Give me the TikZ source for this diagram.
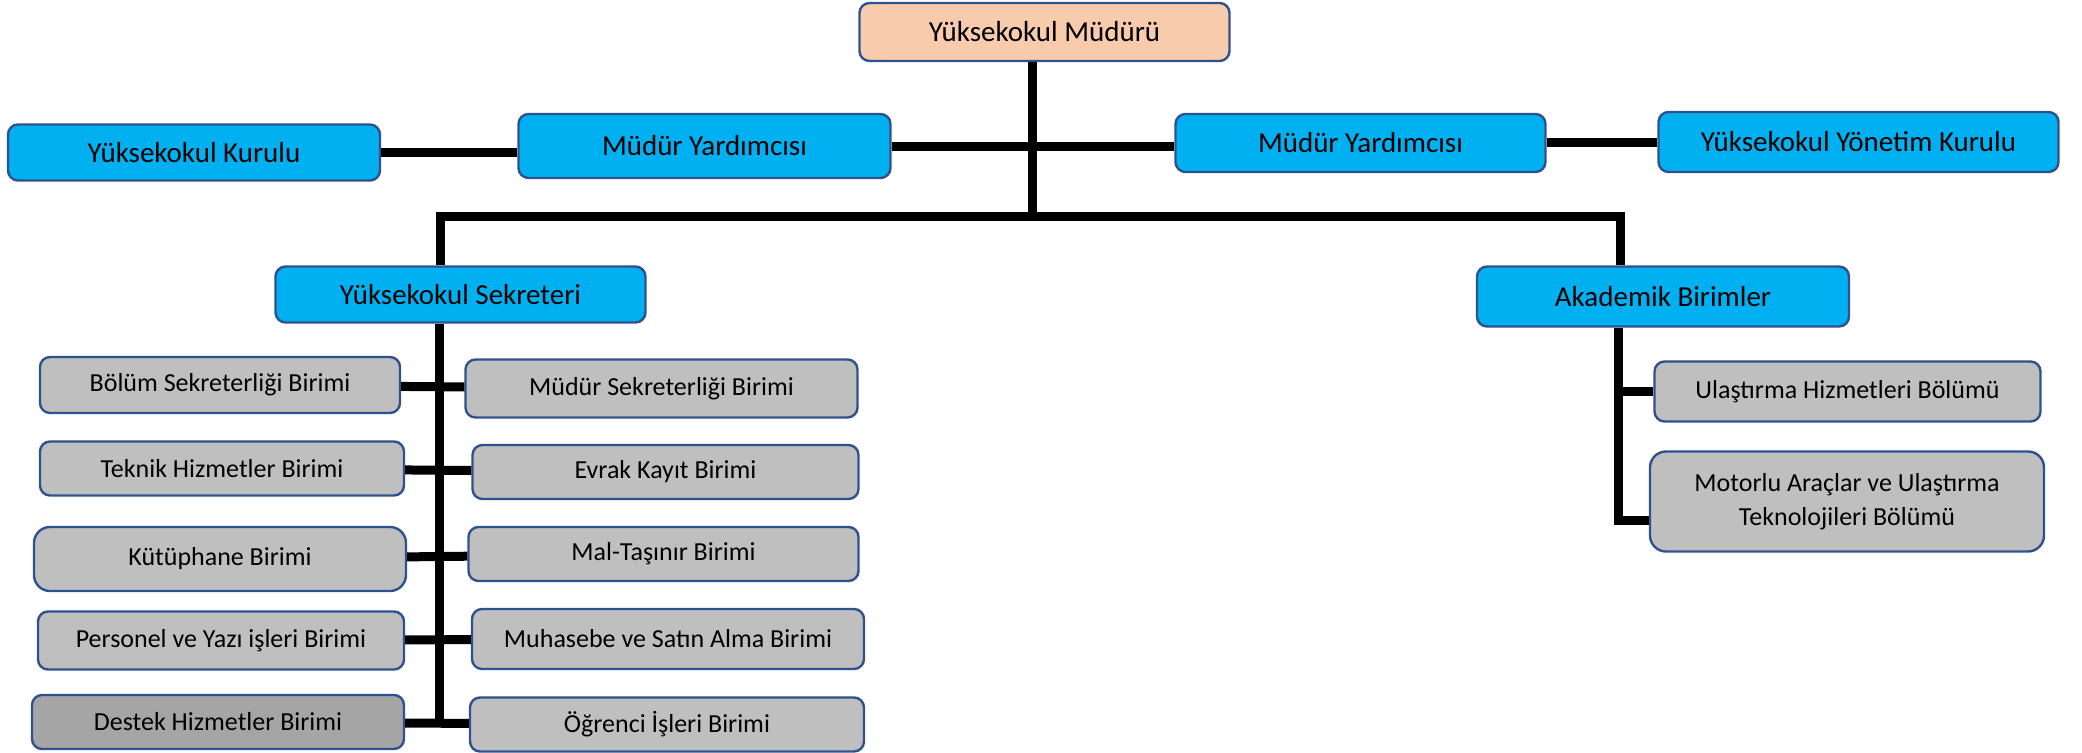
\documentclass[tikz,border=0pt]{standalone}
\usepackage{fontspec}
\setmainfont{Carlito}
\definecolor{boxblue}{HTML}{00B0F0}
\definecolor{boxpeach}{HTML}{F8CBAD}
\definecolor{boxgray}{HTML}{BFBFBF}
\definecolor{boxdark}{HTML}{A5A5A5}
\definecolor{boxline}{HTML}{2F528F}
\begin{document}
\begin{tikzpicture}[x=0.5pt, y=-0.5pt]
    \tikzstyle{box}=[rectangle, rounded corners=5pt, draw=boxline, line width=1.2pt, align=center, inner sep=2pt]
    \tikzstyle{box-blue}=[box, fill=boxblue, font=\fontsize{14.5}{17}\selectfont]
    \tikzstyle{box-peach}=[box, fill=boxpeach, font=\fontsize{14.5}{17}\selectfont]
    \tikzstyle{box-gray}=[box, fill=boxgray, font=\fontsize{13}{17}\selectfont]
    \tikzstyle{box-dark}=[box, fill=boxdark, font=\fontsize{13}{17}\selectfont]
    \tikzstyle{link}=[line width=4.5pt]
    \useasboundingbox (0,0) rectangle (2082,753);

    % top levels
    \node (mudur) [box-peach, minimum width=185pt, minimum height=29pt] at (1044.5,32) {Yüksekokul Müdürü};
    \node (yard-left) [box-blue, minimum width=186pt, minimum height=32pt] at (704.5,146) {Müdür Yardımcısı};
    \node (kurulu) [box-blue, minimum width=186pt, minimum height=28pt] at (194,152.5) {Yüksekokul Kurulu};
    \node (yard-right) [box-blue, minimum width=185pt, minimum height=29pt] at (1360.5,143) {Müdür Yardımcısı};
    \node (yonetim) [box-blue, minimum width=200pt, minimum height=30pt] at (1858.5,142) {Yüksekokul Yönetim Kurulu};
    \node (sekreter) [box-blue, minimum width=185pt, minimum height=28pt] at (460.5,294.5) {Yüksekokul Sekreteri};
    \node (akademik) [box-blue, minimum width=186pt, minimum height=30pt] at (1663,296.5) {Akademik Birimler};

    % units of the secretary
    \node (bolum) [box-gray, minimum width=180pt, minimum height=28pt] at (220,385) {Bölüm Sekreterliği Birimi};
    \node (mud-sek) [box-gray, minimum width=196pt, minimum height=29pt] at (661.5,388.5) {Müdür Sekreterliği Birimi};
    \node (teknik) [box-gray, minimum width=182pt, minimum height=27pt] at (222,468.5) {Teknik Hizmetler Birimi};
    \node (evrak) [box-gray, minimum width=193pt, minimum height=27pt] at (665.5,472) {Evrak Kayıt Birimi};
    \node (kutuphane) [box-gray, rounded corners=8pt, minimum width=186pt, minimum height=32pt] at (220,559) {Kütüphane Birimi};
    \node (mal) [box-gray, minimum width=195pt, minimum height=27pt] at (663.5,554) {Mal-Taşınır Birimi};
    \node (personel) [box-gray, minimum width=183pt, minimum height=29pt] at (221,640.5) {Personel ve Yazı işleri Birimi};
    \node (muhasebe) [box-gray, minimum width=196pt, minimum height=30pt] at (668,639) {Muhasebe ve Satın Alma Birimi};
    \node (destek) [box-dark, minimum width=186pt, minimum height=27pt] at (218,722) {Destek Hizmetler Birimi};
    \node (ogrenci) [box-gray, minimum width=197pt, minimum height=27pt] at (667,724.5) {Öğrenci İşleri Birimi};

    % departments
    \node (ulastirma) [box-gray, minimum width=193pt, minimum height=30pt] at (1847.5,391.5) {Ulaştırma Hizmetleri Bölümü};
    \node (motorlu) [box-gray, rounded corners=8pt, minimum width=197pt, minimum height=50pt] at (1847,501.5) {Motorlu Araçlar ve Ulaştırma\\Teknolojileri Bölümü};

    \coordinate (mid-joint) at (1032,147);
    \coordinate (top-joint) at (1032,217);
    \coordinate (sek-top) at (440,217);
    \coordinate (aka-top) at (1620,217);
    \coordinate (sek-spine) at (439,723);
    \coordinate (aka-spine) at (1618,520);

    \draw [link] (mudur.south -| top-joint) -- (top-joint);
    \draw [link] (yard-left.east |- mid-joint) -- (yard-right.west |- mid-joint);
    \draw [link] (kurulu.east) -- (kurulu.east -| yard-left.west);
    \draw [link] (yard-right.east) -- (yard-right.east -| yonetim.west);
    \draw [link] (sek-top |- sekreter.north) -- (sek-top) -- (aka-top) -- (aka-top |- akademik.north);

    \draw [link] (sekreter.south -| sek-spine) -- (sek-spine);
    \draw [link] (bolum) -- (mud-sek);
    \draw [link] (teknik) -- (evrak);
    \draw [link] (kutuphane) -- (mal);
    \draw [link] (personel) -- (muhasebe);
    \draw [link] (destek) -- (ogrenci);

    \draw [link] (akademik.south -| aka-spine) -- (aka-spine) -- (aka-spine -| motorlu.west);
    \draw [link] (aka-spine |- ulastirma) -- (ulastirma.west);
\end{tikzpicture}
\end{document}
